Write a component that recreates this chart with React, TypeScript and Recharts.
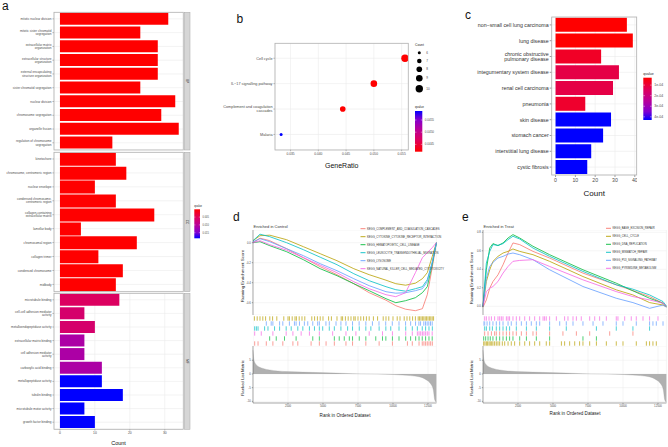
import React from 'react'
import {
  BarChart,
  Bar,
  Cell,
  XAxis,
  YAxis,
  CartesianGrid,
  ScatterChart,
  Scatter,
  LineChart,
  Line,
  AreaChart,
  Area,
} from 'recharts'

const FONT = '"Liberation Sans", Arial, Helvetica, sans-serif'
const AXIS_TXT = '#4d4d4d'
const GRID = '#ebebeb'
const BORDER = '#b3b3b3'
const ZERO = { top: 0, right: 0, bottom: 0, left: 0 }

// ---------- a: GO enrichment ----------
const BP_TERMS = [
  'mitotic nuclear division',
  'mitotic sister chromatid\nsegregation',
  'extracellular matrix\norganization',
  'extracellular structure\norganization',
  'external encapsulating\nstructure organization',
  'sister chromatid segregation',
  'nuclear division',
  'chromosome segregation',
  'organelle fission',
  'regulation of chromosome\nsegregation',
]
const BP_COUNTS = [31, 23, 28, 28, 28, 23, 33, 29, 34, 15]
const BP_QVALUES = [0, 0, 0, 0, 0, 0, 0, 0, 0, 0]

const CC_TERMS = [
  'kinetochore',
  'chromosome, centromeric region',
  'nuclear envelope',
  'condensed chromosome,\ncentromeric region',
  'collagen-containing\nextracellular matrix',
  'lamellar body',
  'chromosomal region',
  'collagen trimer',
  'condensed chromosome',
  'midbody',
]
const CC_COUNTS = [16, 19, 10, 16, 27, 6, 22, 11, 18, 16]
const CC_QVALUES = [0, 0, 0, 0, 0, 0, 0, 0, 0, 0]

const MF_TERMS = [
  'microtubule binding',
  'cell-cell adhesion mediator\nactivity',
  'metalloendopeptidase activity',
  'extracellular matrix binding',
  'cell adhesion mediator\nactivity',
  'carboxylic acid binding',
  'metallopeptidase activity',
  'tubulin binding',
  'microtubule motor activity',
  'growth factor binding',
]
const MF_COUNTS = [17, 7, 10, 7, 7, 12, 12, 18, 7, 10]
const MF_QVALUES = [0.0056, 0.0065, 0.0065, 0.0112, 0.0112, 0.0112, 0.0186, 0.0186, 0.0186, 0.0186]
const GO_Q_RANGE = [0, 0.0186]
const GO_Q_BREAKS = [0.005, 0.01, 0.015]
const GO_COUNT_TICKS = [0, 10, 20, 30]

// ---------- b: KEGG dot plot ----------
const KEGG_TERMS = ['Cell cycle', 'IL\u221217 signalling pathway', 'Complement and coagulation\ncascades', 'Malaria']
const KEGG_RATIO = [0.0556, 0.05, 0.0444, 0.0333]
const KEGG_COUNT = [10, 9, 8, 6]
const KEGG_QVALUES = [0.0442, 0.0442, 0.0442, 0.04587]
const KEGG_Q_RANGE = [0.0442, 0.04587]
const KEGG_Q_BREAKS = [0.0445, 0.045, 0.0455]
const KEGG_RATIO_TICKS = [0.035, 0.04, 0.045, 0.05, 0.055]
const KEGG_COUNT_BREAKS = [6, 7, 8, 9, 10]

// ---------- c: disease ontology ----------
const DO_TERMS = [
  'non\u2212small cell lung carcinoma',
  'lung disease',
  'chronic obstructive\npulmonary disease',
  'integumentary system disease',
  'renal cell carcinoma',
  'pneumonia',
  'skin disease',
  'stomach cancer',
  'interstitial lung disease',
  'cystic fibrosis',
]
const DO_COUNTS = [36, 39, 23, 32, 29, 15, 28, 24, 18, 16]
const DO_QVALUES = [3e-5, 3e-5, 7.8e-5, 1.18e-4, 1.18e-4, 8.6e-5, 4.3e-4, 4.3e-4, 4.3e-4, 4.3e-4]
const DO_Q_RANGE = [3e-5, 4.3e-4]
const DO_Q_BREAKS = [1e-4, 2e-4, 3e-4, 4e-4]
const DO_COUNT_TICKS = [0, 10, 20, 30, 40]

// ---------- d / e: GSEA ----------
const GSEA_COLORS = ['#F8766D', '#B79F00', '#00BA38', '#00BFC4', '#619CFF', '#F564E3']
const N_GENES = 13100
const RANK_TICKS = [2500, 5000, 7500, 10000, 12500]

const D_NAMES = [
  'KEGG_COMPLEMENT_AND_COAGULATION_CASCADES',
  'KEGG_CYTOKINE_CYTOKINE_RECEPTOR_INTERACTION',
  'KEGG_HEMATOPOIETIC_CELL_LINEAGE',
  'KEGG_LEUKOCYTE_TRANSENDOTHELIAL_MIGRATION',
  'KEGG_LYSOSOME',
  'KEGG_NATURAL_KILLER_CELL_MEDIATED_CYTOTOXICITY',
]
const D_RANKS = [0, 500, 1200, 2400, 3600, 4800, 6000, 7200, 8300, 9500, 10200, 10900, 11600, 12100, 12450, 12800, 13100]
const D_ES_COMPLEMENT = [0, 0.045, 0.02, -0.06, -0.15, -0.24, -0.32, -0.41, -0.5, -0.575, -0.63, -0.665, -0.68, -0.66, -0.52, -0.25, 0]
const D_ES_CYTOKINE = [0.02, 0.07, 0.075, 0.03, -0.04, -0.11, -0.18, -0.26, -0.32, -0.375, -0.41, -0.425, -0.405, -0.36, -0.3, -0.14, 0]
const D_ES_HEMATO = [0, 0.01, -0.03, -0.09, -0.17, -0.26, -0.33, -0.41, -0.48, -0.56, -0.6, -0.58, -0.55, -0.5, -0.44, -0.22, 0]
const D_ES_LEUKO = [0.02, 0.085, 0.06, 0, -0.07, -0.145, -0.22, -0.31, -0.38, -0.44, -0.47, -0.485, -0.46, -0.44, -0.37, -0.2, 0]
const D_ES_LYSO = [0.01, 0.04, 0.01, -0.06, -0.13, -0.21, -0.28, -0.36, -0.43, -0.49, -0.505, -0.5, -0.48, -0.46, -0.39, -0.2, 0]
const D_ES_NK = [0, 0.02, -0.02, -0.075, -0.15, -0.225, -0.3, -0.39, -0.46, -0.52, -0.54, -0.5, -0.3, -0.15, -0.1, -0.05, 0]

const D_HITS_CYTOKINE = [100, 300, 500, 700, 900, 1200, 1400, 1700, 2200, 2500, 2600, 2800, 3000, 3100, 3300, 3500, 3700, 4200, 4400, 4600, 4800, 5000, 5400, 5600, 6000, 6300, 6400, 6600, 6800, 7000, 7200, 7300, 7500, 7700, 7900, 8100, 8300, 8600, 8900, 9300, 9500, 9700, 10000, 10300, 10500, 10800, 11000, 11200, 11400, 11600, 11800, 11900, 12000, 12100, 12200, 12300, 12400, 12500, 12600, 12700, 12800, 12900]
const D_HITS_LYSO = [950, 1300, 1420, 1900, 2130, 2600, 2960, 3080, 3320, 3670, 3910, 4270, 4620, 4740, 5210, 5450, 5930, 6280, 6640, 7110, 7580, 8060, 8530, 9000, 9480, 9950, 10430, 10900, 11260, 11610, 11850, 11970, 12200, 12320, 12440, 12560, 12680, 12800]
const D_HITS_LEUKO = [120, 240, 360, 830, 1070, 1540, 1900, 2370, 2730, 3200, 3560, 4030, 4390, 4740, 4980, 5450, 5810, 6280, 6760, 7110, 7590, 8060, 8420, 9010, 9490, 9840, 10430, 10910, 11380, 11740, 12090, 12330, 12570, 12810]
const D_HITS_NK = [120, 590, 1420, 2370, 2850, 3440, 4030, 4740, 5690, 6640, 7350, 8300, 9250, 9960, 10910, 11380, 11740, 11860, 11980, 12100, 12210, 12330, 12450, 12570, 12800]
const D_HITS_HEMATO = [1190, 1660, 2250, 3080, 4270, 4740, 5810, 6160, 6520, 6880, 7110, 7590, 8060, 8770, 9250, 9490, 9960, 10430, 10910, 11260, 11620, 11860, 12090, 12330, 12570, 12800]
const D_HITS_COMPLEMENT = [120, 360, 950, 1420, 2130, 2850, 3200, 4150, 4740, 5220, 5810, 6640, 7110, 8060, 9010, 9960, 11030, 11380, 11860, 12090, 12210, 12330, 12450, 12570, 12690, 12810]

const E_NAMES = [
  'KEGG_BASE_EXCISION_REPAIR',
  'KEGG_CELL_CYCLE',
  'KEGG_DNA_REPLICATION',
  'KEGG_MISMATCH_REPAIR',
  'KEGG_P53_SIGNALING_PATHWAY',
  'KEGG_PYRIMIDINE_METABOLISM',
]
const E_RANKS = [0, 240, 480, 710, 1070, 1430, 1790, 2140, 2620, 3570, 4760, 7140, 9520, 10710, 11900, 12860, 13100]
const E_ES_BER = [-0.01, 0.069, 0.196, 0.268, 0.34, 0.449, 0.576, 0.685, 0.667, 0.594, 0.522, 0.359, 0.232, 0.17, 0.105, 0.033, -0.01]
const E_ES_CELLCYCLE = [0, 0.268, 0.395, 0.486, 0.54, 0.576, 0.594, 0.62, 0.594, 0.558, 0.486, 0.322, 0.178, 0.123, 0.04, 0.014, -0.004]
const E_ES_DNAREP = [0, 0.395, 0.63, 0.678, 0.656, 0.685, 0.739, 0.775, 0.739, 0.649, 0.558, 0.395, 0.25, 0.167, 0.087, 0.033, 0]
const E_ES_MMR = [0, 0.467, 0.594, 0.667, 0.659, 0.678, 0.721, 0.757, 0.728, 0.63, 0.54, 0.377, 0.232, 0.185, 0.123, 0.051, 0.004]
const E_ES_P53 = [0, 0.304, 0.431, 0.475, 0.522, 0.54, 0.565, 0.576, 0.558, 0.504, 0.395, 0.214, 0.087, 0.04, -0.022, 0.014, -0.01]
const E_ES_PYR = [0, 0.159, 0.196, 0.214, 0.268, 0.359, 0.431, 0.486, 0.496, 0.504, 0.431, 0.286, 0.159, 0.105, 0.069, 0.033, 0.004]

const E_HITS_PYR = [120, 240, 430, 600, 830, 1070, 1190, 1310, 1430, 1670, 1790, 1900, 2140, 2380, 2620, 2980, 3330, 3690, 4050, 4290, 4400, 4520, 4760, 5240, 5830, 6070, 6430, 6670, 7020, 7620, 7980, 8330, 8810, 9520, 9640, 10120, 10590, 10950, 11430, 11900, 12500]
const E_HITS_P53 = [0, 120, 290, 480, 710, 950, 1190, 1430, 1790, 2020, 2380, 2740, 3100, 3450, 3810, 4050, 4760, 5480, 5950, 6430, 7140, 7860, 8570, 9520, 10000, 10950, 11900, 12140, 12380, 12860]
const E_HITS_MMR = [120, 240, 480, 670, 950, 1190, 1430, 1670, 1900, 2380, 3100, 3810, 4760, 5950, 8100, 9520, 10710, 11900]
const E_HITS_BER = [120, 360, 600, 830, 950, 1190, 1430, 1670, 1900, 2140, 2380, 2740, 3100, 3570, 3810, 4760, 5710, 6670, 7620, 9050, 10710]
const E_HITS_DNAREP = [50, 190, 360, 520, 710, 950, 1190, 1430, 1670, 1900, 2140, 2620, 3100, 3810, 4760, 7140, 8100]
const E_HITS_CELLCYCLE = [50, 140, 240, 330, 430, 520, 620, 710, 830, 950, 1070, 1190, 1380, 1550, 1790, 2020, 2260, 2620, 2980, 3330, 3690, 4050, 4520, 4760, 5600, 5830, 6190, 6550, 6900, 7140, 7620, 8100, 8810, 9520, 10000, 10950, 11670, 11900, 12140, 12380]

const RANK_POS = [0, 70, 240, 710, 1190, 2370, 4740, 7110, 8300, 9490, 10670, 11860, 12330, 12690, 12880, 12980, 13100]
const RANK_METRIC = [8.7, 5, 3.3, 2.0, 1.45, 0.85, 0.5, 0.1, 0, -0.1, -0.4, -1, -2, -3.6, -5.8, -9.4, -10.3]
const METRIC_TICKS = [5, 0, -5, -10]

// ---------- colour ramp for qvalue ----------
const RAMP: [number, number[]][] = [
  [0, [255, 0, 0]],
  [0.3, [220, 0, 96]],
  [0.55, [184, 0, 154]],
  [0.8, [128, 0, 208]],
  [1, [0, 0, 255]],
]
const rgb = (c: number[]) => `rgb(${c.map((v) => Math.round(v)).join(',')})`

function qColor(q: number, lo: number, hi: number) {
  const t = Math.max(0, Math.min(1, (q - lo) / (hi - lo)))
  for (let i = 1; i < RAMP.length; i++) {
    const [t1, c1] = RAMP[i]
    const [t0, c0] = RAMP[i - 1]
    if (t <= t1) {
      const f = (t - t0) / (t1 - t0)
      return rgb(c0.map((v, k) => v + (c1[k] - v) * f))
    }
  }
  return rgb(RAMP[RAMP.length - 1][1])
}

const dotRadius = (count: number) => Math.sqrt(2.25 + ((count - 6) / 4) * (13.7 - 2.25))

function WrapTick(props: any) {
  const { x, y, label, fs, color } = props
  const lines = String(label).split('\n')
  const lh = fs * 1.05
  const first = y - ((lines.length - 1) * lh) / 2 + fs * 0.35
  return (
    <text x={x} y={first} textAnchor="end" fontSize={fs} fill={color || AXIS_TXT} fontFamily={FONT}>
      {lines.map((l, i) => (
        <tspan key={i} x={x} y={first + i * lh}>
          {l}
        </tspan>
      ))}
    </text>
  )
}

// ---------- a ----------
const A_LEFT = 54
const A_RIGHT = 183.3

function GoFacet({ terms, counts, qvals, top, h, withAxis }: any) {
  const data = terms.map((term: string, i: number) => ({ term, count: counts[i], q: qvals[i] }))
  const axisH = withAxis ? 9 : 0
  return (
    <div style={{ position: 'absolute', left: 0, top }}>
      <BarChart width={A_RIGHT} height={h + axisH} data={data} layout="vertical" margin={ZERO} barCategoryGap="5%">
        <CartesianGrid stroke={GRID} strokeWidth={0.6} />
        <XAxis
          type="number"
          dataKey="count"
          domain={[-1.7, 35.3]}
          ticks={GO_COUNT_TICKS}
          height={axisH}
          interval={0}
          tick={withAxis ? { fontSize: 3.4, fill: AXIS_TXT } : false}
          tickLine={withAxis ? { stroke: '#333', strokeWidth: 0.4 } : false}
          tickSize={1.5}
          tickMargin={1}
          axisLine={false}
        />
        <YAxis
          type="category"
          dataKey="term"
          width={A_LEFT}
          interval={0}
          tickSize={1.5}
          tickMargin={1}
          tick={(p: any) => <WrapTick x={p.x} y={p.y} label={p.payload.value} fs={3.1} />}
          tickLine={{ stroke: '#333', strokeWidth: 0.4 }}
          axisLine={false}
        />
        <Bar dataKey="count" isAnimationActive={false}>
          {data.map((d: any, i: number) => (
            <Cell key={i} fill={qColor(d.q, GO_Q_RANGE[0], GO_Q_RANGE[1])} />
          ))}
        </Bar>
      </BarChart>
    </div>
  )
}

// ---------- b ----------
function KeggDots() {
  const n = KEGG_TERMS.length
  const data = KEGG_TERMS.map((term, i) => ({
    term,
    ratio: KEGG_RATIO[i],
    pos: n - i,
    count: KEGG_COUNT[i],
    q: KEGG_QVALUES[i],
  }))
  return (
    <div style={{ position: 'absolute', left: 200, top: 43.3 }}>
      <ScatterChart width={208.3} height={106.7 + 9} margin={ZERO}>
        <CartesianGrid stroke={GRID} strokeWidth={0.6} />
        <XAxis
          type="number"
          dataKey="ratio"
          domain={[0.0322, 0.0562]}
          ticks={KEGG_RATIO_TICKS}
          interval={0}
          height={9}
          tickFormatter={(v: number) => v.toFixed(3)}
          tick={{ fontSize: 3.3, fill: AXIS_TXT }}
          tickSize={1.5}
          tickMargin={1}
          tickLine={{ stroke: '#333', strokeWidth: 0.4 }}
          axisLine={false}
        />
        <YAxis
          type="number"
          dataKey="pos"
          domain={[0.4, n + 0.6]}
          ticks={[1, 2, 3, 4]}
          interval={0}
          width={75}
          tickSize={1.5}
          tickMargin={1}
          tick={(p: any) => <WrapTick x={p.x} y={p.y} label={KEGG_TERMS[n - p.payload.value]} fs={3.8} />}
          tickLine={{ stroke: '#333', strokeWidth: 0.4 }}
          axisLine={false}
        />
        <Scatter
          data={data}
          isAnimationActive={false}
          shape={(p: any) => (
            <circle
              cx={p.cx}
              cy={p.cy}
              r={dotRadius(p.payload.count)}
              fill={qColor(p.payload.q, KEGG_Q_RANGE[0], KEGG_Q_RANGE[1])}
            />
          )}
        />
      </ScatterChart>
    </div>
  )
}

// ---------- c ----------
function DiseaseBars() {
  const data = DO_TERMS.map((term, i) => ({ term, count: DO_COUNTS[i], q: DO_QVALUES[i] }))
  return (
    <div style={{ position: 'absolute', left: 460, top: 17 }}>
      <BarChart width={176.7} height={158 + 10} data={data} layout="vertical" margin={ZERO} barCategoryGap="5%">
        <CartesianGrid stroke={GRID} strokeWidth={0.6} />
        <XAxis
          type="number"
          dataKey="count"
          domain={[-1.95, 40.95]}
          ticks={DO_COUNT_TICKS}
          interval={0}
          height={10}
          tick={{ fontSize: 5.2, fill: AXIS_TXT }}
          tickSize={2}
          tickMargin={1}
          tickLine={{ stroke: '#333', strokeWidth: 0.5 }}
          axisLine={false}
        />
        <YAxis
          type="category"
          dataKey="term"
          width={91.7}
          interval={0}
          tickSize={2}
          tickMargin={1}
          tick={(p: any) => <WrapTick x={p.x} y={p.y} label={p.payload.value} fs={5.3} color="#333" />}
          tickLine={{ stroke: '#333', strokeWidth: 0.5 }}
          axisLine={false}
        />
        <Bar dataKey="count" isAnimationActive={false}>
          {data.map((d, i) => (
            <Cell key={i} fill={qColor(d.q, DO_Q_RANGE[0], DO_Q_RANGE[1])} />
          ))}
        </Bar>
      </BarChart>
    </div>
  )
}

// ---------- d / e ----------
const G_W = 183.4
const G_YW = 14

function GseaPanel({ left, ranks, es, hitRows, hitColors, yDomain, yTicks }: any) {
  const rows = ranks.map((rank: number, i: number) => {
    const r: any = { rank }
    es.forEach((s: number[], k: number) => {
      r['s' + k] = s[i]
    })
    return r
  })
  const metric = RANK_POS.map((rank, i) => ({ rank, metric: RANK_METRIC[i] }))
  const axisLine = { stroke: '#333', strokeWidth: 0.4 }
  return (
    <>
      <div style={{ position: 'absolute', left: left - G_YW, top: 230 }}>
        <LineChart width={G_YW + G_W} height={85} data={rows} margin={ZERO}>
          <CartesianGrid stroke={GRID} strokeWidth={0.5} />
          <XAxis type="number" dataKey="rank" domain={[0, N_GENES]} ticks={RANK_TICKS} height={0} tick={false} tickLine={false} axisLine={false} />
          <YAxis
            type="number"
            domain={yDomain}
            ticks={yTicks}
            interval={0}
            width={G_YW}
            tickFormatter={(v: number) => v.toFixed(1)}
            tick={{ fontSize: 2.8, fill: AXIS_TXT }}
            tickSize={1.2}
            tickMargin={1}
            tickLine={axisLine}
            axisLine={axisLine}
          />
          {es.map((_: any, k: number) => (
            <Line
              key={k}
              type="linear"
              dataKey={'s' + k}
              stroke={GSEA_COLORS[k]}
              strokeWidth={0.8}
              dot={false}
              isAnimationActive={false}
            />
          ))}
        </LineChart>
      </div>
      <div style={{ position: 'absolute', left, top: 316 }}>
        <ScatterChart width={G_W} height={30} margin={ZERO}>
          <CartesianGrid stroke={GRID} strokeWidth={0.5} horizontal={false} />
          <XAxis type="number" dataKey="rank" domain={[0, N_GENES]} ticks={RANK_TICKS} height={0} tick={false} tickLine={false} axisLine={false} />
          <YAxis type="number" dataKey="row" domain={[0.5, 6.5]} hide />
          {hitRows.map((hits: number[], k: number) => (
            <Scatter
              key={k}
              data={hits.map((rank) => ({ rank, row: 6 - k }))}
              isAnimationActive={false}
              shape={(p: any) => (
                <line x1={p.cx} x2={p.cx} y1={p.cy - 2.2} y2={p.cy + 2.2} stroke={hitColors[k]} strokeWidth={0.7} />
              )}
            />
          ))}
        </ScatterChart>
      </div>
      <div style={{ position: 'absolute', left: left - G_YW, top: 346 }}>
        <AreaChart width={G_YW + G_W} height={57 + 8} data={metric} margin={ZERO}>
          <CartesianGrid stroke={GRID} strokeWidth={0.5} />
          <XAxis
            type="number"
            dataKey="rank"
            domain={[0, N_GENES]}
            ticks={RANK_TICKS}
            interval={0}
            height={8}
            tick={{ fontSize: 2.8, fill: AXIS_TXT }}
            tickSize={1.2}
            tickMargin={0.8}
            tickLine={axisLine}
            axisLine={axisLine}
          />
          <YAxis
            type="number"
            domain={[-10.6, 10.2]}
            ticks={METRIC_TICKS}
            interval={0}
            width={G_YW}
            tick={{ fontSize: 2.8, fill: AXIS_TXT }}
            tickSize={1.2}
            tickMargin={1}
            tickLine={axisLine}
            axisLine={axisLine}
          />
          <Area
            type="monotone"
            dataKey="metric"
            baseValue={0}
            fill="#b0b0b0"
            fillOpacity={1}
            stroke="#9a9a9a"
            strokeWidth={0.3}
            isAnimationActive={false}
          />
        </AreaChart>
      </div>
    </>
  )
}

// ---------- overlay (borders, strips, legends, titles) ----------
function ColorBar({ x, y, w, h, lo, hi, highOnTop, breaks, fmt, title, fs }: any) {
  const pos = (v: number) => (highOnTop ? y + ((hi - v) / (hi - lo)) * h : y + ((v - lo) / (hi - lo)) * h)
  return (
    <g>
      <text x={x} y={y - 2.6} fontSize={fs} fill="#222">
        {title}
      </text>
      <rect x={x} y={y} width={w} height={h} fill={`url(#${highOnTop ? 'qRampUp' : 'qRampDown'})`} />
      {breaks.map((b: number) => (
        <g key={b}>
          <line x1={x} x2={x + w * 0.2} y1={pos(b)} y2={pos(b)} stroke="#fff" strokeWidth={0.4} />
          <line x1={x + w * 0.8} x2={x + w} y1={pos(b)} y2={pos(b)} stroke="#fff" strokeWidth={0.4} />
          <text x={x + w + 2.5} y={pos(b) + fs * 0.35} fontSize={fs} fill={AXIS_TXT}>
            {fmt(b)}
          </text>
        </g>
      ))}
    </g>
  )
}

function GseaLegend({ x, y, names }: any) {
  return (
    <g>
      {names.map((name: string, i: number) => (
        <g key={name}>
          <line x1={x} x2={x + 5} y1={y + i * 8} y2={y + i * 8} stroke={GSEA_COLORS[i]} strokeWidth={0.9} />
          <text x={x + 6.5} y={y + i * 8 + 0.95} fontSize={2.7} fill="#333">
            {name}
          </text>
        </g>
      ))}
    </g>
  )
}

const FACETS = [
  { strip: 'BP', top: 12.3, h: 137.7 },
  { strip: 'CC', top: 152.3, h: 139.4 },
  { strip: 'MF', top: 293.3, h: 136 },
]

function Overlay() {
  const rampStops = RAMP.map(([t, c]) => <stop key={t} offset={t} stopColor={rgb(c)} />)
  const countLegendY = [52.7, 61, 69.3, 78.3, 88.7]
  return (
    <svg
      width={668}
      height={447}
      style={{ position: 'absolute', left: 0, top: 0, pointerEvents: 'none' }}
      fontFamily={FONT}
    >
      <defs>
        <linearGradient id="qRampDown" x1="0" y1="0" x2="0" y2="1">
          {rampStops}
        </linearGradient>
        <linearGradient id="qRampUp" x1="0" y1="1" x2="0" y2="0">
          {rampStops}
        </linearGradient>
      </defs>

      {/* panel letters */}
      <text x={2} y={10} fontSize={12} fill="#111">a</text>
      <text x={236.5} y={22.5} fontSize={12} fill="#111">b</text>
      <text x={465} y={18.5} fontSize={12} fill="#111">c</text>
      <text x={233} y={221} fontSize={12} fill="#111">d</text>
      <text x={462} y={221} fontSize={12} fill="#111">e</text>

      {/* a: borders + strips */}
      {FACETS.map((f) => (
        <g key={f.strip}>
          <rect x={A_LEFT} y={f.top} width={A_RIGHT - A_LEFT} height={f.h} fill="none" stroke={BORDER} strokeWidth={0.8} />
          <rect x={184.3} y={f.top} width={5.7} height={f.h} fill="#d6d6d6" stroke="#a8a8a8" strokeWidth={0.5} />
          <text
            transform={`translate(186.2, ${f.top + f.h / 2}) rotate(90)`}
            textAnchor="middle"
            fontSize={3}
            fill="#333"
          >
            {f.strip}
          </text>
        </g>
      ))}
      <text x={118.5} y={444.5} fontSize={5.5} textAnchor="middle" fill="#111">Count</text>
      <ColorBar
        x={194.3}
        y={209.3}
        w={5.7}
        h={29}
        lo={GO_Q_RANGE[0]}
        hi={GO_Q_RANGE[1]}
        highOnTop={false}
        breaks={GO_Q_BREAKS}
        fmt={(v: number) => v.toFixed(3)}
        title="qvalue"
        fs={2.6}
      />

      {/* b */}
      <rect x={275} y={43.3} width={133.3} height={106.7} fill="none" stroke={BORDER} strokeWidth={0.8} />
      <text x={341.7} y={168} fontSize={7} textAnchor="middle" fill="#111">GeneRatio</text>
      <text x={415} y={45.5} fontSize={3.3} fill="#222">Count</text>
      {KEGG_COUNT_BREAKS.map((c, i) => (
        <g key={c}>
          <circle cx={419.3} cy={countLegendY[i]} r={dotRadius(c)} fill="#000" />
          <text x={426.2} y={countLegendY[i] + 1.1} fontSize={3.1} fill={AXIS_TXT}>{c}</text>
        </g>
      ))}
      <ColorBar
        x={415}
        y={111}
        w={7.3}
        h={40.7}
        lo={KEGG_Q_RANGE[0]}
        hi={KEGG_Q_RANGE[1]}
        highOnTop
        breaks={KEGG_Q_BREAKS}
        fmt={(v: number) => v.toFixed(4)}
        title="qvalue"
        fs={3}
      />

      {/* c */}
      <rect x={551.7} y={17} width={85} height={158} fill="none" stroke={BORDER} strokeWidth={0.8} />
      <text x={594.2} y={196} fontSize={8} textAnchor="middle" fill="#111">Count</text>
      <ColorBar
        x={643.3}
        y={77.7}
        w={8.4}
        h={42.3}
        lo={DO_Q_RANGE[0]}
        hi={DO_Q_RANGE[1]}
        highOnTop={false}
        breaks={DO_Q_BREAKS}
        fmt={(v: number) => `${Math.round(v * 1e4)}e-04`}
        title="qvalue"
        fs={3.5}
      />

      {/* d */}
      <text x={253.5} y={227.5} fontSize={4} fill="#333">Enriched in Control</text>
      <text transform="translate(243.5, 276) rotate(-90)" textAnchor="middle" fontSize={4.4} fill="#222">
        Running Enrichment Score
      </text>
      <text transform="translate(243.5, 378) rotate(-90)" textAnchor="middle" fontSize={4.3} fill="#222">
        Ranked List Metric
      </text>
      <text x={345} y={416.5} textAnchor="middle" fontSize={4.6} fill="#222">Rank in Ordered Dataset</text>
      <GseaLegend x={360.5} y={228.7} names={D_NAMES} />

      {/* e */}
      <text x={483.5} y={227.5} fontSize={4} fill="#333">Enriched in Treat</text>
      <text transform="translate(473, 278) rotate(-90)" textAnchor="middle" fontSize={4.4} fill="#222">
        Running Enrichment Score
      </text>
      <text transform="translate(473, 378) rotate(-90)" textAnchor="middle" fontSize={4.3} fill="#222">
        Ranked List Metric
      </text>
      <text x={575} y={415} textAnchor="middle" fontSize={4.6} fill="#222">Rank in Ordered Dataset</text>
      <GseaLegend x={606} y={228.3} names={E_NAMES} />
    </svg>
  )
}

export default function App() {
  return (
    <div
      style={{
        position: 'absolute',
        left: 0,
        top: 0,
        width: 668,
        height: 447,
        background: '#fff',
        fontFamily: FONT,
        overflow: 'hidden',
      }}
    >
      <GoFacet terms={BP_TERMS} counts={BP_COUNTS} qvals={BP_QVALUES} top={FACETS[0].top} h={FACETS[0].h} />
      <GoFacet terms={CC_TERMS} counts={CC_COUNTS} qvals={CC_QVALUES} top={FACETS[1].top} h={FACETS[1].h} />
      <GoFacet terms={MF_TERMS} counts={MF_COUNTS} qvals={MF_QVALUES} top={FACETS[2].top} h={FACETS[2].h} withAxis />
      <KeggDots />
      <DiseaseBars />
      <GseaPanel
        left={253.3}
        ranks={D_RANKS}
        es={[D_ES_COMPLEMENT, D_ES_CYTOKINE, D_ES_HEMATO, D_ES_LEUKO, D_ES_LYSO, D_ES_NK]}
        hitRows={[D_HITS_CYTOKINE, D_HITS_LYSO, D_HITS_LEUKO, D_HITS_NK, D_HITS_HEMATO, D_HITS_COMPLEMENT]}
        hitColors={[GSEA_COLORS[1], GSEA_COLORS[4], GSEA_COLORS[3], GSEA_COLORS[5], GSEA_COLORS[2], GSEA_COLORS[0]]}
        yDomain={[-0.723, 0.127]}
        yTicks={[0, -0.2, -0.4, -0.6]}
      />
      <GseaPanel
        left={483.3}
        ranks={E_RANKS}
        es={[E_ES_BER, E_ES_CELLCYCLE, E_ES_DNAREP, E_ES_MMR, E_ES_P53, E_ES_PYR]}
        hitRows={[E_HITS_PYR, E_HITS_P53, E_HITS_MMR, E_HITS_BER, E_HITS_DNAREP, E_HITS_CELLCYCLE]}
        hitColors={[GSEA_COLORS[5], GSEA_COLORS[4], GSEA_COLORS[3], GSEA_COLORS[0], GSEA_COLORS[2], GSEA_COLORS[1]]}
        yDomain={[-0.094, 0.825]}
        yTicks={[0, 0.2, 0.4, 0.6, 0.8]}
      />
      <Overlay />
    </div>
  )
}
